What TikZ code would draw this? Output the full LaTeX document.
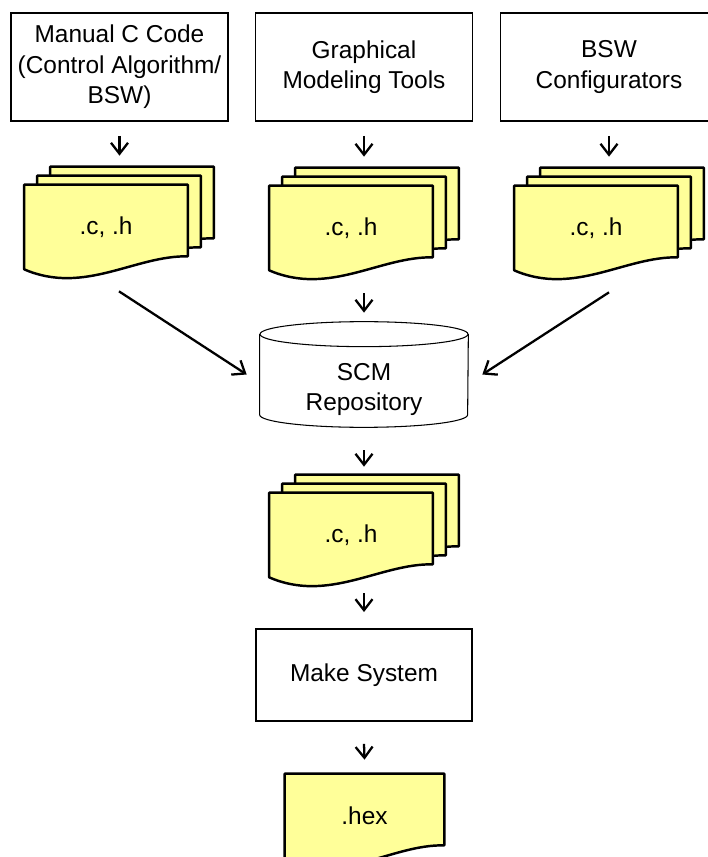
\documentclass[tikz,border=0pt]{standalone}
\usepackage{fontspec}
\setmainfont{Liberation Sans}
\usepackage{xcolor}
\usepackage{tikz}
\usetikzlibrary{arrows.meta,calc,backgrounds}
\definecolor{docyellow}{RGB}{255,255,153}

\newcommand{\sheet}[1]{%
\draw[sheetline] (#1.north west) -- (#1.north east) -- ($(#1.south east)+(0,-13)$)
  .. controls ($(#1.south east)+(-53,-14)$) and ($(#1.south west)+(60,26)$) .. (#1.south west) -- cycle;}

\begin{document}
\begin{tikzpicture}[x=0.02cm,y=-0.02cm,
font=\fontsize{13.9pt}{17.3pt}\selectfont,
srcbox/.style={draw, line width=1.1pt, minimum width=4.34cm, minimum height=2.16cm, align=center, inner sep=0pt},
sheet/.style={minimum width=3.26cm, minimum height=1.68cm, inner sep=0pt},
sheetline/.style={draw, line width=1.4pt, fill=docyellow, line join=round},
repo/.style={minimum width=4.16cm, minimum height=2.1cm, inner sep=0pt},
repoline/.style={draw, line width=0.6pt, fill=white},
arr/.style={-{Straight Barb[length=2.2mm,width=3.4mm]}, line width=1.3pt}
]
\useasboundingbox (0,0) rectangle (707,857);

\node[srcbox](b1) at (119.5,67) {Manual C Code\\(Control Algorithm/\\BSW)};
\node[srcbox](b2) at (364,67) {Graphical\\Modeling Tools};
\node[srcbox](b3) at (609,67) {BSW\\Configurators};

\node[sheet](c1b) at (132,209) {};
\node[sheet](c1m) at (119,218) {};
\node[sheet](c1) at (106,227) {.c, .h};
\node[sheet](c2b) at (377,210) {};
\node[sheet](c2m) at (364,219) {};
\node[sheet](c2) at (351,228) {.c, .h};
\node[sheet](c3b) at (622,210) {};
\node[sheet](c3m) at (609,219) {};
\node[sheet](c3) at (596,228) {.c, .h};

\node[repo, label={[yshift=-0.3cm,align=center]center:SCM\\Repository}](scm) at (364,374.5) {};

\node[sheet](c4b) at (377,517) {};
\node[sheet](c4m) at (364,526) {};
\node[sheet](c4) at (351,535) {.c, .h};

\node[srcbox, minimum width=4.32cm, minimum height=1.84cm](make) at (364,675) {Make System};

\node[sheet, minimum width=3.18cm](hex) at (364.5,816) {.hex};

\begin{scope}[on background layer]
\sheet{c1b} \sheet{c1m} \sheet{c1}
\sheet{c2b} \sheet{c2m} \sheet{c2}
\sheet{c3b} \sheet{c3m} \sheet{c3}
\sheet{c4b} \sheet{c4m} \sheet{c4}
\sheet{hex}
\draw[repoline] ($(scm.north west)+(0,12.5)$) -- ($(scm.south west)+(0,-12.5)$)
  arc[start angle=180, end angle=360, x radius=2.08cm, y radius=0.25cm] -- ($(scm.north east)+(0,12.5)$);
\draw[repoline] ($(scm.north)+(0,12.5)$) ellipse[x radius=2.08cm, y radius=0.25cm];
\end{scope}

\draw[arr] ($(b1.south)+(0,14)$) -- ($(b1.south |- c1b.north)+(0,-11)$);
\draw[arr] ($(b2.south)+(0,14)$) -- ($(b2.south |- c2b.north)+(0,-11)$);
\draw[arr] ($(b3.south)+(0,14)$) -- ($(b3.south |- c3b.north)+(0,-11)$);

\draw[arr] ($(c1m.south)+(0,31)$) -- ($(scm.west)+(-13,0)$);
\draw[arr] ($(c2m.south)+(0,32)$) -- ($(scm.north)+(0,-9)$);
\draw[arr] ($(c3m.south)+(0,31)$) -- ($(scm.east)+(14,0)$);

\draw[arr] ($(scm.south)+(0,23)$) -- ($(scm.south |- c4b.north)+(0,-8)$);
\draw[arr] ($(c4m.south)+(0,25)$) -- ($(make.north)+(0,-16)$);
\draw[arr] ($(make.south)+(0,22)$) -- ($(hex.north)+(0,-14)$);

\end{tikzpicture}
\end{document}
